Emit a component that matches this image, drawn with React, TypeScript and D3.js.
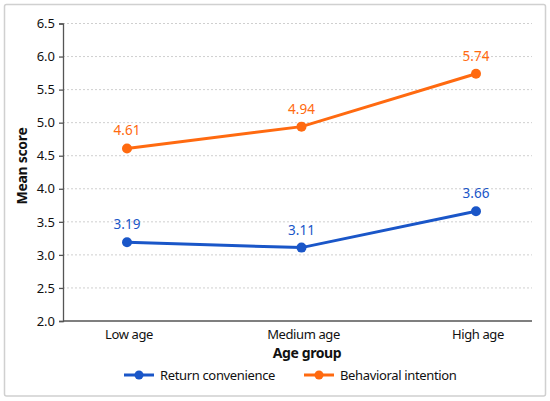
import { useRef, useEffect } from 'react';
import * as d3 from 'd3';

const ageGroups = ['Low age', 'Medium age', 'High age'];
const returnConvenience = [3.19, 3.11, 3.66];
const behavioralIntention = [4.61, 4.94, 5.74];
const yTicks = [2.0, 2.5, 3.0, 3.5, 4.0, 4.5, 5.0, 5.5, 6.0, 6.5];

const seriesList = [
    { name: 'Return convenience', values: returnConvenience, color: '#1a56c8' },
    { name: 'Behavioral intention', values: behavioralIntention, color: '#ff6a10' },
];

const FONT = '"Noto Sans", "Open Sans", sans-serif';

export default function App() {
    const svgRef = useRef<SVGSVGElement>(null);
    const width = 550;
    const height = 401;

    useEffect(() => {
        if (!svgRef.current) return;
        const svg = d3.select(svgRef.current);
        svg.selectAll('*').remove();

        const left = 63;
        const right = 532;
        const top = 23.5;
        const bottom = 321;

        // Frame
        svg.append('rect')
            .attr('x', 4.5)
            .attr('y', 4.5)
            .attr('width', 541)
            .attr('height', 391.5)
            .attr('rx', 2)
            .attr('fill', '#fff')
            .attr('stroke', '#d0d0d0')
            .attr('stroke-width', 1.5);

        const xScale = d3.scalePoint<string>()
            .domain(ageGroups)
            .range([127, 476]);

        const yScale = d3.scaleLinear()
            .domain([2.0, 6.5])
            .range([bottom, top]);

        // Grid lines
        svg.append('g')
            .selectAll('line')
            .data(yTicks.filter(t => t > 2.0))
            .join('line')
            .attr('x1', left)
            .attr('x2', right)
            .attr('y1', d => yScale(d))
            .attr('y2', d => yScale(d))
            .attr('stroke', '#cfcfcf')
            .attr('stroke-width', 1)
            .attr('stroke-dasharray', '2,2');

        // Y axis
        const yAxis = svg.append('g')
            .attr('transform', `translate(${left},0)`)
            .call(d3.axisLeft(yScale).tickValues(yTicks).tickFormat(d3.format('.1f')).tickSize(4).tickPadding(4));
        yAxis.select('.domain').attr('stroke', '#555').attr('stroke-width', 1.3);
        yAxis.selectAll('.tick line').attr('stroke', '#555').attr('stroke-width', 1.3);
        yAxis.selectAll('.tick text')
            .attr('fill', '#111')
            .attr('font-size', 13)
            .attr('font-family', FONT);

        // X axis line
        svg.append('line')
            .attr('x1', left)
            .attr('x2', right)
            .attr('y1', bottom)
            .attr('y2', bottom)
            .attr('stroke', '#555')
            .attr('stroke-width', 1.3);

        // X labels
        svg.append('g')
            .selectAll('text')
            .data(ageGroups)
            .join('text')
            .attr('x', d => xScale(d) as number + 2)
            .attr('y', bottom + 18)
            .attr('text-anchor', 'middle')
            .attr('fill', '#111')
            .attr('font-size', 13)
            .attr('letter-spacing', -0.4)
            .attr('font-family', FONT)
            .text(d => d);

        // Axis titles
        svg.append('text')
            .attr('x', 307)
            .attr('y', 358)
            .attr('text-anchor', 'middle')
            .attr('font-size', 14)
            .attr('font-weight', 'bold')
            .attr('letter-spacing', -0.4)
            .attr('font-family', FONT)
            .attr('fill', '#111')
            .text('Age group');

        svg.append('text')
            .attr('transform', `translate(27,166) rotate(-90)`)
            .attr('text-anchor', 'middle')
            .attr('font-size', 14)
            .attr('font-weight', 'bold')
            .attr('letter-spacing', -0.3)
            .attr('font-family', FONT)
            .attr('fill', '#111')
            .text('Mean score');

        // Series
        const line = d3.line<number>()
            .x((_, i) => xScale(ageGroups[i]) as number)
            .y(d => yScale(d));

        seriesList.forEach(s => {
            const g = svg.append('g');
            g.append('path')
                .attr('d', line(s.values))
                .attr('fill', 'none')
                .attr('stroke', s.color)
                .attr('stroke-width', 3);
            g.selectAll('circle')
                .data(s.values)
                .join('circle')
                .attr('cx', (_, i) => xScale(ageGroups[i]) as number)
                .attr('cy', d => yScale(d))
                .attr('r', 5)
                .attr('fill', s.color);
            g.selectAll('text')
                .data(s.values)
                .join('text')
                .attr('x', (_, i) => xScale(ageGroups[i]) as number)
                .attr('y', d => yScale(d) - 13)
                .attr('text-anchor', 'middle')
                .attr('font-size', 13.5)
                .attr('font-family', FONT)
                .attr('fill', s.color)
                .text(d => d.toFixed(2));
        });

        // Legend
        const legendX = [124, 304];
        seriesList.forEach((s, i) => {
            const lg = svg.append('g').attr('transform', `translate(${legendX[i]},375)`);
            lg.append('line')
                .attr('x1', 0)
                .attr('x2', 30)
                .attr('stroke', s.color)
                .attr('stroke-width', 3);
            lg.append('circle')
                .attr('cx', 15)
                .attr('r', 4.5)
                .attr('fill', s.color);
            lg.append('text')
                .attr('x', 36)
                .attr('dy', '0.35em')
                .attr('font-size', 13)
                .attr('letter-spacing', -0.35)
                .attr('font-family', FONT)
                .attr('fill', '#111')
                .text(s.name);
        });
    }, []);

    return (
        <svg
            ref={svgRef}
            width={width}
            height={height}
            style={{ position: 'absolute', left: 0, top: 0, background: '#fff' }}
        />
    );
}
